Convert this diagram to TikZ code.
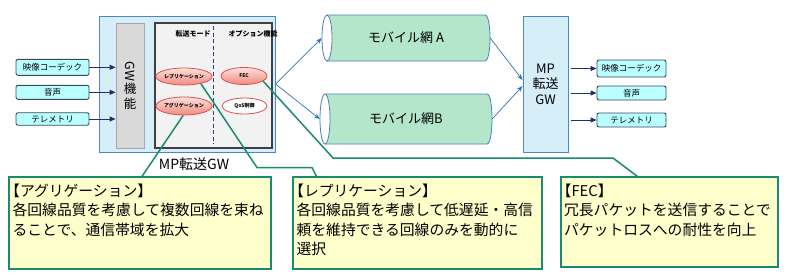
\documentclass[tikz,border=0pt]{standalone}
\usepackage{fontspec}
\setmainfont{Noto Sans CJK JP}
\usetikzlibrary{arrows.meta,shapes.geometric}
\definecolor{outerfill}{HTML}{D6EEF8}
\definecolor{outerline}{HTML}{4A86C8}
\definecolor{gwfill}{HTML}{D9D9D9}
\definecolor{gwline}{HTML}{A6A6A6}
\definecolor{innerfill}{HTML}{F2F2F2}
\definecolor{innerline}{HTML}{404040}
\definecolor{dashcol}{HTML}{2F3F7F}
\definecolor{cyanfill}{HTML}{B9FFFF}
\definecolor{boxline}{HTML}{3A4A5A}
\definecolor{navy}{HTML}{1F2F6F}
\definecolor{ovaltop}{HTML}{FCE0DC}
\definecolor{ovalbot}{HTML}{F08A7E}
\definecolor{ovalline}{HTML}{D9534F}
\definecolor{cylfill}{HTML}{B3E6CA}
\definecolor{cylline}{HTML}{4F81BD}
\definecolor{linkblue}{HTML}{2E75B6}
\definecolor{callfill}{HTML}{FFFFCC}
\definecolor{tealcol}{HTML}{1A8A70}
\begin{document}
\begin{tikzpicture}[x=1pt,y=-1pt,
  plainbox/.style={rectangle,inner sep=0pt},
  iobox/.style={rectangle,rounded corners=2pt,draw=boxline,fill=cyanfill,line width=0.9pt,inner sep=0pt,font=\fontsize{8.5}{10}\selectfont},
  navyarrow/.style={draw=navy,line width=0.9pt,-{Triangle[length=6pt,width=5pt]}},
  linkarrow/.style={draw=linkblue,line width=0.7pt,-{Stealth[length=6pt,width=4.5pt]}},
  oval/.style={ellipse,inner sep=0pt,draw=ovalline,line width=0.8pt,top color=ovaltop,bottom color=ovalbot,font=\fontsize{5}{6}\selectfont\bfseries},
  callout/.style={rectangle,draw=tealcol,fill=callfill,line width=1.2pt,inner sep=0pt},
  leader/.style={draw=tealcol,line width=1.5pt},
  calltext/.style={anchor=north west,inner sep=0pt,align=left,font=\fontsize{14.8}{19.3}\selectfont},
  cylpath/.style={draw=cylline,line width=0.8pt}
]
\useasboundingbox (0,0) rectangle (789,276);
\fill[white] (0,0) rectangle (789,276);

% outer MP GW box
\node[plainbox,draw=outerline,fill=outerfill,line width=1pt,minimum width=176pt,minimum height=136pt] (outer) at (187,84) {};
\node[plainbox,draw=gwline,fill=gwfill,line width=0.8pt,minimum width=28pt,minimum height=125pt,align=center,font=\fontsize{12.5}{15}\selectfont] (gw) at (130,85.5) {\rotatebox[origin=c]{-90}{GW}\\機\\能};
\node[plainbox,draw=innerline,fill=innerfill,line width=1.2pt,minimum width=117pt,minimum height=125pt] (inner) at (213.5,85.5) {};
\draw[dashcol,line width=0.7pt,dash pattern=on 4pt off 2.5pt] ([xshift=-0.5pt,yshift=-4pt]inner.north) -- ([xshift=-0.5pt,yshift=5pt]inner.south);
\node[font=\fontsize{7}{8}\selectfont\bfseries,inner sep=0pt] (modehdr) at (193,34) {転送モード};
\node[font=\fontsize{7}{8}\selectfont\bfseries,inner sep=0pt] (opthdr) at (253,34) {オプション機能};
\node[font=\fontsize{14}{16}\selectfont,inner sep=0pt] (gwlabel) at (194,164) {MP転送GW};

% input boxes
\node[iobox,minimum width=73pt,minimum height=16pt] (in1) at (52.5,67.3) {映像コーデック};
\node[iobox,minimum width=73pt,minimum height=14pt] (in2) at (52.5,92.3) {音声};
\node[iobox,minimum width=73pt,minimum height=12.5pt] (in3) at (52.5,119) {テレメトリ};
\draw[navyarrow] (in1.east) -- (in1.east -| gw.west);
\draw[navyarrow] (in2.east) -- (in2.east -| gw.west);
\draw[navyarrow] (in3.east) -- (in3.east -| gw.west);

% cylinders
\fill[cylfill] (327,15) -- (485,15) .. controls (491.67,15) and (491.67,61) .. (485,61) -- (327,61) .. controls (320.33,61) and (320.33,15) .. (327,15) -- cycle;
\draw[cylpath] (327,15) -- (485,15) .. controls (491.67,15) and (491.67,61) .. (485,61) -- (327,61);
\filldraw[cylpath,fill=white] (327,38) ellipse [x radius=5,y radius=23];
\node[plainbox,minimum width=168pt,minimum height=46pt,font=\fontsize{13}{15}\selectfont] (netA) at (406,38) {モバイル網 A};

\fill[cylfill] (325,94) -- (487,94) .. controls (493.67,94) and (493.67,144) .. (487,144) -- (325,144) .. controls (318.33,144) and (318.33,94) .. (325,94) -- cycle;
\draw[cylpath] (325,94) -- (487,94) .. controls (493.67,94) and (493.67,144) .. (487,144) -- (325,144);
\filldraw[cylpath,fill=white] (325,119) ellipse [x radius=5,y radius=25];
\node[plainbox,minimum width=172pt,minimum height=50pt,font=\fontsize{13}{15}\selectfont] (netB) at (406,119) {モバイル網B};

% right MP box
\node[plainbox,draw=outerline,fill=outerfill,line width=1pt,minimum width=45pt,minimum height=136pt,align=center,font=\fontsize{13}{15.5}\selectfont] (mpR) at (545.5,84) {MP\\転送\\GW};

% links
\draw[linkarrow] (outer.east) -- (netA.west);
\draw[linkarrow] (outer.east) -- (netB.west);
\draw[linkarrow] (netA.east) -- ([yshift=4pt]mpR.west);
\draw[linkarrow] (netB.east) -- ([yshift=-2pt]mpR.west);

% output boxes
\node[iobox,minimum width=69pt,minimum height=17pt] (out1) at (631.5,68.5) {映像コーデック};
\node[iobox,minimum width=69pt,minimum height=14pt] (out2) at (631.5,93) {音声};
\node[iobox,minimum width=69pt,minimum height=14pt] (out3) at (631.5,120) {テレメトリ};
\draw[navyarrow,shorten <=2pt] (out1.west -| mpR.east) -- (out1.west);
\draw[navyarrow,shorten <=2pt] (out2.west -| mpR.east) -- (out2.west);
\draw[navyarrow,shorten <=2pt] (out3.west -| mpR.east) -- (out3.west);

% callouts
\node[callout,minimum width=262pt,minimum height=92pt] (aggbox) at (140,223) {};
\node[callout,minimum width=249pt,minimum height=92pt] (repbox) at (417.5,223) {};
\node[callout,minimum width=217pt,minimum height=90pt] (fecbox) at (669.5,222) {};

% ovals
\node[oval,minimum width=48pt,minimum height=17pt] (rep) at (184,76.5) {レプリケーション};
\node[oval,minimum width=48pt,minimum height=18pt] (agg) at (184,106) {アグリゲーション};
\node[oval,minimum width=46pt,minimum height=17pt] (fec) at (244,76) {FEC};
\node[ellipse,draw=ovalline,fill=white,line width=0.8pt,inner sep=0pt,minimum width=45pt,minimum height=16pt,font=\fontsize{5}{6}\selectfont\bfseries] (qos) at (244.5,106) {QoS制御};

% leader lines
\draw[leader] (agg.-95) -- ([xshift=2pt]aggbox.north);
\draw[leader] (rep.-23) -- (257,167.5) -- (312,167.5) -- ([xshift=24pt]repbox.north west);
\draw[leader] (fec.-15) -- (333,158) -- (613,158) -- ([xshift=77pt]fecbox.north west);

% callout texts
\node[calltext] (aggtext) at ([xshift=4pt,yshift=-7.5pt]aggbox.north west) {\hspace*{-0.5em}【アグリゲーション】\\各回線品質を考慮して複数回線を束ね\\ることで、通信帯域を拡大};
\node[calltext] (reptext) at ([xshift=4pt,yshift=-7.5pt]repbox.north west) {\hspace*{-0.5em}【レプリケーション】\\各回線品質を考慮して低遅延・高信\\頼を維持できる回線のみを動的に\\選択};
\node[calltext] (fectext) at ([xshift=3.5pt,yshift=-7.5pt]fecbox.north west) {\hspace*{-0.5em}【FEC】\\冗長パケットを送信することで\\パケットロスへの耐性を向上};
\end{tikzpicture}
\end{document}
